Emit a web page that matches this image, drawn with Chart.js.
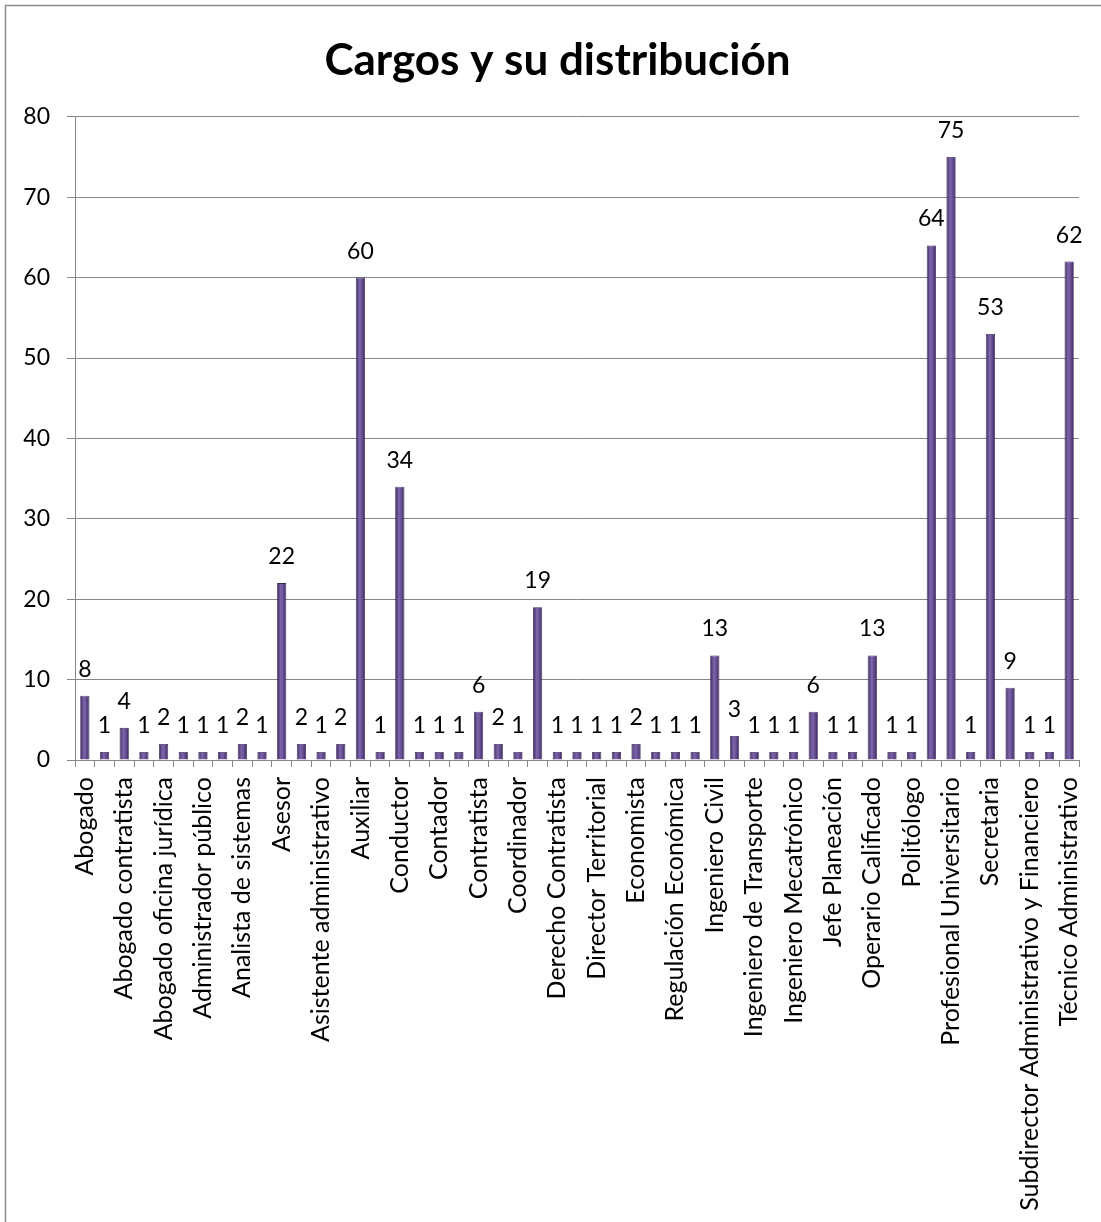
<!DOCTYPE html>
<html><head><meta charset="utf-8">
<script src="https://cdn.jsdelivr.net/npm/chart.js@4.4.1/dist/chart.umd.min.js"></script>
<style>html,body{margin:0;padding:0;background:#fff}#wrap{width:1101px;height:1222px;position:relative}</style>
</head><body><div id="wrap"><canvas id="c" width="1101" height="1222"></canvas></div>
<script>
const chartTitle = 'Cargos y su distribución';
// Only every other category label is legible in the source; unreadable ones are left blank.
const categories = ['Abogado','','Abogado contratista','','Abogado oficina jurídica','','Administrador público','','Analista de sistemas','','Asesor','','Asistente administrativo','','Auxiliar','','Conductor','','Contador','','Contratista','','Coordinador','','Derecho Contratista','','Director Territorial','','Economista','','Regulación Económica','','Ingeniero Civil','','Ingeniero de Transporte','','Ingeniero Mecatrónico','','Jefe Planeación','','Operario Calificado','','Politólogo','','Profesional Universitario','','Secretaria','','Subdirector Administrativo y Financiero','','Técnico Administrativo'];
const values = [8,1,4,1,2,1,1,1,2,1,22,2,1,2,60,1,34,1,1,1,6,2,1,19,1,1,1,1,2,1,1,1,13,3,1,1,1,6,1,1,13,1,1,64,75,1,53,9,1,1,62];
const yMin = 0, yMax = 80, yStep = 10;

const BAR_PCT = 0.47;
const FONT = 'Lato';

const frame = {
  id: 'frame',
  beforeDraw(chart) {
    const ctx = chart.ctx;
    ctx.save();
    ctx.fillStyle = '#fff';
    ctx.fillRect(0, 0, chart.width, chart.height);
    ctx.strokeStyle = '#8c8c8c';
    ctx.lineWidth = 1.5;
    ctx.beginPath();
    ctx.moveTo(5.5, chart.height + 5);
    ctx.lineTo(5.5, 5.5);
    ctx.lineTo(chart.width + 5, 5.5);
    ctx.stroke();
    ctx.restore();
  }
};

// shift the title's centring box so it is centred like the original
const titleShift = {
  id: 'titleShift',
  afterLayout(chart) {
    if (chart.titleBlock) chart.titleBlock.left = 36;
  }
};

const valueLabels = {
  id: 'valueLabels',
  afterDatasetsDraw(chart) {
    const ctx = chart.ctx;
    const meta = chart.getDatasetMeta(0);
    ctx.save();
    ctx.font = '23px ' + FONT;
    ctx.fillStyle = '#000';
    ctx.textAlign = 'center';
    ctx.textBaseline = 'alphabetic';
    meta.data.forEach((bar, i) => {
      ctx.fillText(String(values[i]), bar.x, bar.y - 19);
    });
    ctx.restore();
  }
};

function barFill(c) {
  const ch = c.chart;
  const xs = ch.scales && ch.scales.x;
  if (!xs || !ch.chartArea) return '#5f4a8b';
  const x = xs.getPixelForValue(c.dataIndex);
  const hw = (xs.width / categories.length) * BAR_PCT / 2;
  const g = ch.ctx.createLinearGradient(x - hw, 0, x + hw, 0);
  g.addColorStop(0, '#3b275c');
  g.addColorStop(0.4, '#7d65ab');
  g.addColorStop(0.6, '#6f579d');
  g.addColorStop(1, '#3b275c');
  return g;
}

new Chart(document.getElementById('c'), {
  type: 'bar',
  data: {
    labels: categories,
    datasets: [{
      data: values,
      backgroundColor: barFill,
      borderColor: '#3a2858',
      borderWidth: 0.8,
      categoryPercentage: 1,
      barPercentage: BAR_PCT
    }]
  },
  options: {
    responsive: false,
    animation: false,
    devicePixelRatio: 1,
    layout: { padding: { left: 0, right: 22, top: 0, bottom: 0 } },
    plugins: {
      legend: { display: false },
      tooltip: { enabled: false },
      title: {
        display: true,
        text: chartTitle,
        color: '#000',
        font: { family: FONT, size: 44, weight: 'bold', lineHeight: 1.2 },
        padding: { top: 34, bottom: 30 }
      }
    },
    scales: {
      y: {
        min: yMin, max: yMax,
        ticks: { stepSize: yStep, color: '#000', font: { family: FONT, size: 23 }, padding: 17 },
        grid: { color: '#868686', lineWidth: 1, tickLength: 8 },
        border: { color: '#868686', width: 1 },
        afterFit(s) { s.width = 75; s.paddingTop = 0; s.paddingBottom = 0; }
      },
      x: {
        offset: true,
        ticks: { autoSkip: false, minRotation: 90, maxRotation: 90, color: '#000', font: { family: FONT, size: 25 }, padding: 10 },
        grid: { offset: true, drawOnChartArea: false, color: '#868686', tickLength: 7 },
        border: { color: '#868686', width: 1 },
        afterFit(s) { s.height = 462; s.paddingLeft = 0; s.paddingRight = 0; }
      }
    }
  },
  plugins: [frame, titleShift, valueLabels]
});
</script></body></html>
